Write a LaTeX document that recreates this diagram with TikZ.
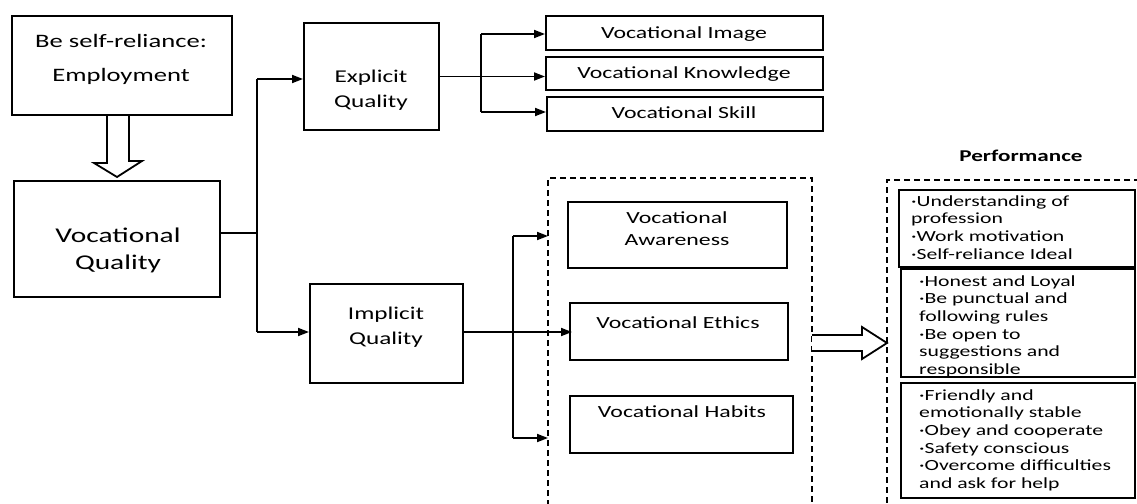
\documentclass[tikz,border=0pt]{standalone}
\usepackage{fontspec}
\setmainfont{Carlito}
\usepackage{graphicx}
\usetikzlibrary{arrows.meta}
\newcommand{\sx}[1]{\scalebox{1.4}[1]{#1}}
\newcommand{\fs}[2]{\fontsize{#1}{#2}\selectfont}
\begin{document}
\begin{tikzpicture}[x=1pt,y=-1pt,
  box/.style={draw, line width=2pt, inner sep=0pt},
  conn/.style={line width=1.8pt},
  arr/.style={conn, -{Triangle[length=11pt,width=8pt]}},
  dbox/.style={line width=2pt, dash pattern=on 6pt off 4pt},
  txt/.style={inner sep=0pt, anchor=base},
  ltxt/.style={inner sep=0pt, anchor=base west, font=\fs{15.5}{17.7}},
  hollow/.style={draw, line width=1.8pt, fill=white, line join=miter}]
\useasboundingbox (0,0) rectangle (1137,503);

% boxes
\node[box, minimum width=220, minimum height=99] (emp) at (122,65.5) {};
\node[box, minimum width=206, minimum height=116] (vq) at (117,239) {};
\node[box, minimum width=135, minimum height=107] (expl) at (371.5,76.5) {};
\node[box, minimum width=153, minimum height=99] (impl) at (386.5,333.5) {};
\node[box, minimum width=277, minimum height=34] (img) at (684.5,33) {};
\node[box, minimum width=277, minimum height=33] (know) at (684.5,73.5) {};
\node[box, minimum width=276, minimum height=34] (skl) at (685,114) {};
\node[box, minimum width=219, minimum height=66] (aware) at (677.5,235) {};
\node[box, minimum width=218, minimum height=57] (eth) at (679,331.5) {};
\node[box, minimum width=223, minimum height=57] (hab) at (681.5,424.5) {};
\node[box, minimum width=236, minimum height=77] (p1) at (1017,228.5) {};
\node[box, minimum width=234, minimum height=108] (p2) at (1018,323) {};
\node[box, minimum width=234, minimum height=115] (p3) at (1018,440.5) {};

% texts
\node[txt, font=\fs{19}{34}] (empT) at (121,48) {\sx{\begin{tabular}[t]{@{}c@{}}Be self-reliance:\\Employment\end{tabular}}};
\node[txt, font=\fs{21}{27}] (vqT) at (118,242) {\sx{\begin{tabular}[t]{@{}c@{}}Vocational\\Quality\end{tabular}}};
\node[txt, font=\fs{18}{25}] (explT) at (371,82) {\sx{\begin{tabular}[t]{@{}c@{}}Explicit\\Quality\end{tabular}}};
\node[txt, font=\fs{18}{25}] (implT) at (386,319) {\sx{\begin{tabular}[t]{@{}c@{}}Implicit\\Quality\end{tabular}}};
\node[txt, font=\fs{17}{22}] (imgT) at (684,38) {\sx{Vocational Image}};
\node[txt, font=\fs{17}{22}] (knowT) at (684,78) {\sx{Vocational Knowledge}};
\node[txt, font=\fs{17}{22}] (sklT) at (684,118) {\sx{Vocational Skill}};
\node[txt, font=\fs{17}{22}] (awareT) at (677,223) {\sx{\begin{tabular}[t]{@{}c@{}}Vocational\\Awareness\end{tabular}}};
\node[txt, font=\fs{17}{22}] (ethT) at (678,328) {\sx{Vocational Ethics}};
\node[txt, font=\fs{17}{22}] (habT) at (682,417) {\sx{Vocational Habits}};
\node[txt, font=\bfseries\fs{16.5}{20}] (perfT) at (1021,161) {\sx{Performance}};

\node[ltxt] (p1T) at (911,206) {\sx{\begin{tabular}[t]{@{}l@{}}·Understanding of\\profession\\·Work motivation\\·Self-reliance Ideal\end{tabular}}};
\begin{scope}
\clip (902,270) rectangle (1134,376);
\node[ltxt] (p2T) at (919,286) {\sx{\begin{tabular}[t]{@{}l@{}}·Honest and Loyal\\·Be punctual and\\following rules\\·Be open to\\suggestions and\\responsible\end{tabular}}};
\end{scope}
\node[ltxt] (p3T) at (919,400) {\sx{\begin{tabular}[t]{@{}l@{}}·Friendly and\\emotionally stable\\·Obey and cooperate\\·Safety conscious\\·Overcome difficulties\\and ask for help\end{tabular}}};

% dashed groups
\coordinate (dA) at (548,178);
\coordinate (dB) at (887,180);
\draw[dbox] (548,506) -- (dA) -- (812,178) -- (812,506);
\draw[dbox] (1140,180) -- (dB) -- (887,506);

% hollow arrows
\draw[hollow] ([xshift=-15pt]emp.south) -- ++(0,47) -- ++(-13,0) -- ([yshift=3pt]vq.north) -- ++(25,-16) -- ++(-13,0) -- ([xshift=7pt]emp.south);
\coordinate (hA) at (812,343);
\draw[hollow] ([yshift=8pt]hA) -- ++(50,0) -- ++(0,-8) -- (hA -| dB) -- ++(-25,16) -- ++(0,-8) -- ([yshift=-8pt]hA);

% connectors
\coordinate (j1) at (257,233);
\coordinate (bt) at (257,79);
\coordinate (bb) at (257,332);
\draw[conn] ([yshift=6pt]vq.east) -- (j1);
\draw[conn] (bt) -- (bb);
\draw[arr] (bt) -- (bt -| expl.west);
\draw[arr] (bb) -- (bb -| impl.west);

\coordinate (ct) at (481,34);
\coordinate (cb) at (481,112);
\draw[conn] (ct) -- (cb);
\draw[arr] (expl.east) -- (expl.east -| know.west);
\draw[arr] (ct) -- (ct -| img.west);
\draw[arr] (cb) -- (cb -| skl.west);

\coordinate (dt) at (513,236);
\coordinate (db) at (513,438);
\draw[conn] (dt) -- (db);
\draw[arr] ([yshift=1.5pt]impl.east) -- ([yshift=1.5pt,xshift=3pt]impl.east -| eth.west);
\draw[arr] (dt) -- (dt -| dA);
\draw[arr] (db) -- (db -| dA);
\end{tikzpicture}
\end{document}
